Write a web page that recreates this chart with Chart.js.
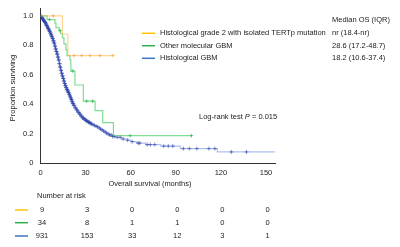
<!DOCTYPE html>
<html><head><meta charset="utf-8">
<script src="https://cdn.jsdelivr.net/npm/chart.js@4/dist/chart.umd.min.js"></script>
<style>html,body{margin:0;padding:0;background:#fff;}#wrap{width:400px;height:247px;position:relative;}</style>
</head><body><div id="wrap"><canvas id="c" width="400" height="247"></canvas></div>
<script>
// ---- data ----
const xTicks = [0, 30, 60, 90, 120, 150];
const yTicks = [0, 0.2, 0.4, 0.6, 0.8, 1.0];
const seriesNames = ["Histological grade 2 with isolated TERTp mutation", "Other molecular GBM", "Histological GBM"];
const medianOS = ["nr (18.4-nr)", "28.6 (17.2-48.7)", "18.2 (10.6-37.4)"];

// Orange: grade 2 with isolated TERTp mutation
const orangeT = [0, 14.6, 18.2, 48.2];
const orangeS = [1.0, 0.875, 0.73, 0.73];
const orangeCensT = [8.5, 22.2, 27.4, 33, 39.5, 48.2];
const orangeCensS = [1.0, 0.73, 0.73, 0.73, 0.73, 0.73];

// Green: other molecular GBM
const greenT = [0, 4.4, 9.6, 10.3, 12.4, 13.3, 14.6, 15.6, 16.9, 17.6, 19.6, 20.2, 22.9, 28.5, 36.3, 41.4, 48.5, 100.4];
const greenS = [1.0, 0.975, 0.95, 0.92, 0.90, 0.88, 0.85, 0.81, 0.77, 0.73, 0.70, 0.625, 0.53, 0.42, 0.356, 0.274, 0.186, 0.186];
const greenCensT = [6, 13, 21.4, 30.7, 34.7, 59.6, 100.4];
const greenCensS = [0.975, 0.90, 0.625, 0.42, 0.42, 0.186, 0.186];

// Blue: histological GBM
const blueT = [0, 0.5, 1, 1.5, 2, 2.5, 3, 3.5, 4, 4.5, 5, 5.5, 6, 6.5, 7, 7.5, 8, 8.5, 9, 9.5, 10, 10.5, 11, 11.5, 12, 12.5, 13, 13.5, 14, 14.5, 15, 15.5, 16, 16.5, 17, 17.5, 18, 18.5, 19, 19.5, 20, 20.5, 21, 21.5, 22, 23, 24, 25, 26, 27, 28, 29, 30, 31, 32, 33, 34, 35, 36, 37, 38, 39, 40, 41, 42, 43, 44, 45, 46, 48, 50, 54, 57, 60, 64, 70, 80, 93, 117.6, 156];
const blueS = [1.0, 0.993, 0.985, 0.978, 0.97, 0.962, 0.955, 0.945, 0.935, 0.925, 0.915, 0.905, 0.895, 0.883, 0.87, 0.858, 0.845, 0.83, 0.815, 0.795, 0.775, 0.757, 0.74, 0.72, 0.70, 0.675, 0.652, 0.63, 0.61, 0.592, 0.575, 0.557, 0.54, 0.525, 0.512, 0.5, 0.49, 0.48, 0.468, 0.455, 0.442, 0.43, 0.416, 0.404, 0.392, 0.375, 0.36, 0.345, 0.332, 0.318, 0.306, 0.298, 0.29, 0.283, 0.277, 0.27, 0.265, 0.26, 0.255, 0.25, 0.245, 0.238, 0.23, 0.224, 0.217, 0.21, 0.203, 0.197, 0.19, 0.18, 0.175, 0.163, 0.155, 0.145, 0.135, 0.125, 0.115, 0.098, 0.075, 0.075];
const blueCensT = [0.25, 0.5, 0.75, 1, 1.25, 1.5, 1.75, 2, 2.25, 2.5, 2.75, 3, 3.25, 3.5, 3.75, 4, 4.25, 4.5, 4.75, 5, 5.25, 5.5, 5.75, 6, 6.25, 6.5, 6.75, 7, 7.25, 7.5, 7.75, 8, 8.25, 8.5, 8.75, 9, 9.25, 9.5, 9.75, 10, 10.25, 10.5, 10.75, 11, 11.25, 11.5, 11.75, 12, 12.25, 12.5, 12.75, 13, 13.25, 13.5, 13.75, 14, 14.25, 14.5, 14.75, 15, 15.25, 15.5, 15.75, 16, 16.25, 16.5, 16.75, 17, 17.25, 17.5, 17.75, 18, 18.25, 18.5, 18.75, 19, 19.25, 19.5, 19.75, 20, 20.25, 20.5, 20.75, 21, 21.25, 21.5, 21.75, 22, 22.5, 23, 23.5, 24, 24.5, 25, 25.5, 26, 26.5, 27, 27.5, 28, 28.5, 29, 29.5, 30, 30.5, 31, 31.5, 32, 32.5, 33, 33.5, 34, 35, 36, 37, 38, 39, 40, 41, 42, 43, 44, 45, 46, 47, 48, 49, 51, 53, 55, 58, 61, 65, 66, 71, 73, 76, 82, 85, 88, 95, 99, 104, 112, 116, 127, 137];
const blueCensS = [1.0, 0.993, 0.993, 0.985, 0.985, 0.978, 0.978, 0.97, 0.97, 0.962, 0.962, 0.955, 0.955, 0.945, 0.945, 0.935, 0.935, 0.925, 0.925, 0.915, 0.915, 0.905, 0.905, 0.895, 0.895, 0.883, 0.883, 0.87, 0.87, 0.858, 0.858, 0.845, 0.845, 0.83, 0.83, 0.815, 0.815, 0.795, 0.795, 0.775, 0.775, 0.757, 0.757, 0.74, 0.74, 0.72, 0.72, 0.70, 0.70, 0.675, 0.675, 0.652, 0.652, 0.63, 0.63, 0.61, 0.61, 0.592, 0.592, 0.575, 0.575, 0.557, 0.557, 0.54, 0.54, 0.525, 0.525, 0.512, 0.512, 0.5, 0.5, 0.49, 0.49, 0.48, 0.48, 0.468, 0.468, 0.455, 0.455, 0.442, 0.442, 0.43, 0.43, 0.416, 0.416, 0.404, 0.404, 0.392, 0.392, 0.375, 0.375, 0.36, 0.36, 0.345, 0.345, 0.332, 0.332, 0.318, 0.318, 0.306, 0.306, 0.298, 0.298, 0.29, 0.29, 0.283, 0.283, 0.277, 0.277, 0.27, 0.27, 0.265, 0.26, 0.255, 0.25, 0.245, 0.238, 0.23, 0.224, 0.217, 0.21, 0.203, 0.197, 0.19, 0.19, 0.18, 0.18, 0.175, 0.175, 0.163, 0.155, 0.145, 0.135, 0.135, 0.125, 0.125, 0.125, 0.115, 0.115, 0.115, 0.098, 0.098, 0.098, 0.098, 0.098, 0.075, 0.075];

const riskOrange = [9, 3, 0, 0, 0, 0];
const riskGreen = [34, 8, 1, 1, 0, 0];
const riskBlue = [931, 153, 33, 12, 3, 1];

// ---- styling ----
const FONT = "'Liberation Sans', Arial, sans-serif";
const FS = 7.5;
const colLegend = ["#FFC000", "#2BB14B", "#3A72C4"];
const colLine = ["rgba(255,176,60,0.55)", "rgba(60,200,90,0.65)", "rgba(120,150,225,0.6)"];
const colCens = ["rgba(255,170,60,0.8)", "rgba(60,190,90,0.85)", "rgba(45,65,170,0.6)"];

const pts = (T, S) => T.map((t, i) => ({x: t, y: S[i]}));

function curve(T, S, c, ord) {
  return {type: 'line', data: pts(T, S), borderColor: c, borderWidth: 1.2, stepped: true, pointRadius: 0, fill: false, order: ord};
}
function cens(T, S, c, ord, r) {
  return {type: 'scatter', data: pts(T, S), borderColor: c, backgroundColor: c, pointStyle: 'cross', pointRadius: r, borderWidth: 1, showLine: false, order: ord};
}

const textPlugin = {
  id: 'texts',
  afterDraw(chart) {
    const ctx = chart.ctx;
    const xs = chart.scales.x;
    ctx.save();
    ctx.fillStyle = '#222';
    ctx.font = FS + 'px ' + FONT;
    ctx.textBaseline = 'middle';
    // axis titles
    ctx.textAlign = 'center';
    ctx.fillText('Overall survival (months)', 150, 184);
    ctx.save();
    ctx.translate(13, 88);
    ctx.rotate(-Math.PI / 2);
    ctx.fillText('Proportion surviving', 0, 0);
    ctx.restore();
    // legend
    const ly = [33.3, 45.7, 58.3];
    ctx.textAlign = 'left';
    for (let i = 0; i < 3; i++) {
      ctx.strokeStyle = colLegend[i];
      ctx.lineWidth = 1.5;
      ctx.beginPath(); ctx.moveTo(142, ly[i]); ctx.lineTo(155, ly[i]); ctx.stroke();
      ctx.fillText(seriesNames[i], 160, ly[i]);
      ctx.fillText(medianOS[i], 332, ly[i]);
    }
    ctx.fillText('Median OS (IQR)', 332, 20);
    // log-rank
    let x0 = 199;
    const s1 = 'Log-rank test ';
    ctx.fillText(s1, x0, 117);
    x0 += ctx.measureText(s1).width;
    ctx.font = 'italic ' + FS + 'px ' + FONT;
    ctx.fillText('P', x0, 117);
    x0 += ctx.measureText('P').width;
    ctx.font = FS + 'px ' + FONT;
    ctx.fillText(' = 0.015', x0, 117);
    // number at risk
    ctx.fillText('Number at risk', 37, 196);
    const ry = [210, 222.7, 236];
    const risks = [riskOrange, riskGreen, riskBlue];
    for (let i = 0; i < 3; i++) {
      ctx.strokeStyle = colLegend[i];
      ctx.lineWidth = 1.5;
      ctx.beginPath(); ctx.moveTo(15, ry[i]); ctx.lineTo(28, ry[i]); ctx.stroke();
      ctx.textAlign = 'center';
      risks[i].forEach((v, j) => ctx.fillText(String(v), xs.getPixelForValue(xTicks[j]) + 1.5, ry[i]));
      ctx.textAlign = 'left';
    }
    ctx.restore();
  }
};

new Chart(document.getElementById('c'), {
  data: {
    datasets: [
      cens(orangeCensT, orangeCensS, colCens[0], 1, 1.7),
      curve(orangeT, orangeS, colLine[0], 2),
      cens(greenCensT, greenCensS, colCens[1], 3, 1.7),
      curve(greenT, greenS, colLine[1], 4),
      cens(blueCensT, blueCensS, colCens[2], 5, 2),
      curve(blueT, blueS, colLine[2], 6)
    ]
  },
  options: {
    responsive: false,
    animation: false,
    devicePixelRatio: 1,
    layout: {padding: {left: 0, right: 125, top: 5, bottom: 0}},
    plugins: {legend: {display: false}, tooltip: {enabled: false}},
    scales: {
      x: {
        type: 'linear', min: 0, max: 156,
        afterBuildTicks: s => { s.ticks = xTicks.map(v => ({value: v})); },
        afterFit: s => { s.height = 84; },
        grid: {display: false, drawOnChartArea: false, drawTicks: true, tickLength: 3, color: '#333'},
        border: {display: true, color: '#333', width: 1},
        ticks: {color: '#222', font: {family: FONT, size: FS}, padding: 2, maxRotation: 0}
      },
      y: {
        type: 'linear', min: 0, max: 1.05,
        afterBuildTicks: s => { s.ticks = yTicks.map(v => ({value: v})); },
        afterFit: s => { s.width = 40.5; },
        grid: {display: false, drawOnChartArea: false, drawTicks: true, tickLength: 3, color: '#333'},
        border: {display: true, color: '#333', width: 1},
        ticks: {color: '#222', font: {family: FONT, size: FS}, padding: 4, callback: v => v === 0 ? '0' : v.toFixed(1)}
      }
    }
  },
  plugins: [textPlugin]
});
</script>
</body></html>
